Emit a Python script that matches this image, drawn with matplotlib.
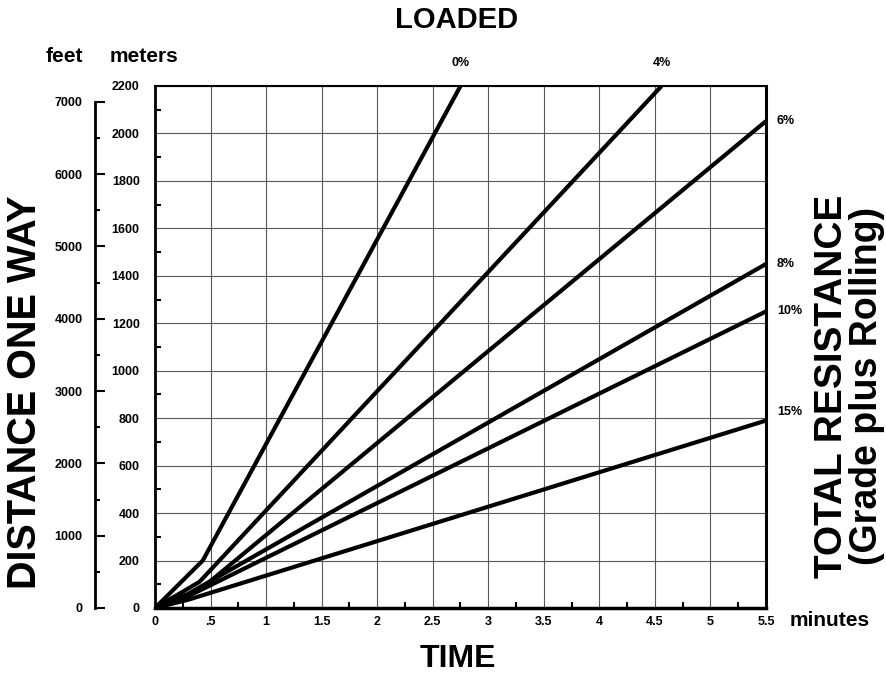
import matplotlib
matplotlib.use('Agg')
import matplotlib.pyplot as plt
import numpy as np
from matplotlib.ticker import FixedLocator, FuncFormatter

# travel time vs one-way distance, loaded truck
grades = ['0%', '4%', '6%', '8%', '10%', '15%']
t_0 = [0, 0.43, 2.75]
d_0 = [0, 200, 2200]
t_4 = [0, 0.40, 4.56]
d_4 = [0, 110, 2200]
t_6 = [0, 0.40, 5.5]
d_6 = [0, 75, 2052]
t_8 = [0, 0.30, 5.5]
d_8 = [0, 60, 1450]
t_10 = [0, 0.30, 5.5]
d_10 = [0, 50, 1250]
t_15 = [0, 0.30, 5.5]
d_15 = [0, 35, 790]

times = [t_0, t_4, t_6, t_8, t_10, t_15]
dists = [d_0, d_4, d_6, d_8, d_10, d_15]

x_ticks = np.arange(0, 5.51, 0.5)
m_ticks = np.arange(0, 2201, 200)
ft_ticks = np.arange(0, 7001, 1000)

plt.rcParams['font.family'] = ['Liberation Sans', 'DejaVu Sans']
plt.rcParams['font.weight'] = 'bold'

W, H = 887, 675
def px(x, y):
    return x / W, 1 - y / H

fig = plt.figure(figsize=(W / 100, H / 100), dpi=100)
ax = fig.add_axes([155 / W, 1 - 608 / H, (766 - 155) / W, (608 - 86) / H])

ax.set_xlim(0, 5.5)
ax.set_ylim(0, 2200)
ax.grid(True, which='major', color='0.35', lw=0.8)
ax.set_axisbelow(True)

for t, d in zip(times, dists):
    ax.plot(t, d, color='black', lw=3, solid_capstyle='butt', solid_joinstyle='round')

# grade labels at the end of each line
for g, t, d in zip(grades, times, dists):
    if d[-1] >= 2200:
        ax.annotate(g, (t[-1], d[-1]), xytext=(0, 23), textcoords='offset pixels',
                    ha='center', va='center', fontsize=9, fontweight='bold',
                    annotation_clip=False)
    else:
        dy = 9 if g == '15%' else 0
        ax.annotate(g, (t[-1], d[-1]), xytext=(11, dy), textcoords='offset pixels',
                    ha='left', va='center', fontsize=9, fontweight='bold',
                    annotation_clip=False)

ax.set_xticks(x_ticks)
ax.xaxis.set_major_formatter(FuncFormatter(
    lambda v, p: ('%g' % v)[1:] if 0 < v < 1 else '%g' % v))
ax.xaxis.set_minor_locator(FixedLocator(np.arange(0.25, 5.5, 0.5)))
ax.set_yticks(m_ticks)
ax.yaxis.set_minor_locator(FixedLocator(np.arange(100, 2200, 200)))
ax.tick_params(which='major', length=0, labelsize=9)
ax.tick_params(axis='x', which='major', pad=6)
ax.tick_params(axis='y', which='major', pad=11)
ax.tick_params(which='minor', direction='in', length=4, width=1.5)

for lab in ax.get_xticklabels() + ax.get_yticklabels():
    lab.set_fontweight('bold')

ax.spines['left'].set_linewidth(2)
ax.spines['bottom'].set_linewidth(2.5)
ax.spines['right'].set_linewidth(2.2)
ax.spines['top'].set_linewidth(1.5)

# feet scale
ax2 = ax.twinx()
ax2.set_ylim(0, 2200 / 0.3048)
ax2.yaxis.tick_left()
for s in ['right', 'top', 'bottom']:
    ax2.spines[s].set_visible(False)
ax2.spines['left'].set_position(('outward', 43.2))
ax2.spines['left'].set_bounds(0, 7000)
ax2.spines['left'].set_linewidth(2)
ax2.set_yticks(ft_ticks)
ax2.yaxis.set_minor_locator(FixedLocator(np.arange(500, 7000, 1000)))
ax2.tick_params(axis='y', which='major', direction='in', length=7, width=1.5,
                labelsize=9, pad=9)
ax2.tick_params(axis='y', which='minor', direction='in', length=3.5, width=1.5)
for lab in ax2.get_yticklabels():
    lab.set_fontweight('bold')

# text
fig.text(*px(457, 20), 'LOADED', fontsize=21, fontweight='bold', ha='center', va='center')
fig.text(*px(64, 56), 'feet', fontsize=15, fontweight='bold', ha='center', va='center')
fig.text(*px(144, 56), 'meters', fontsize=15, fontweight='bold', ha='center', va='center')
fig.text(*px(25, 392), 'DISTANCE ONE WAY', fontsize=28.5, fontweight='bold',
         rotation=90, ha='center', va='center')
fig.text(*px(458, 659), 'TIME', fontsize=23, fontweight='bold', ha='center', va='center')
fig.text(*px(790, 620), 'minutes', fontsize=15, fontweight='bold', ha='left', va='center')
fig.text(*px(832, 386), 'TOTAL RESISTANCE', fontsize=28, fontweight='bold',
         rotation=90, ha='center', va='center')
fig.text(*px(867, 386), '(Grade plus Rolling)', fontsize=27, fontweight='bold',
         rotation=90, ha='center', va='center')

fig.savefig('out.png', dpi=100)
